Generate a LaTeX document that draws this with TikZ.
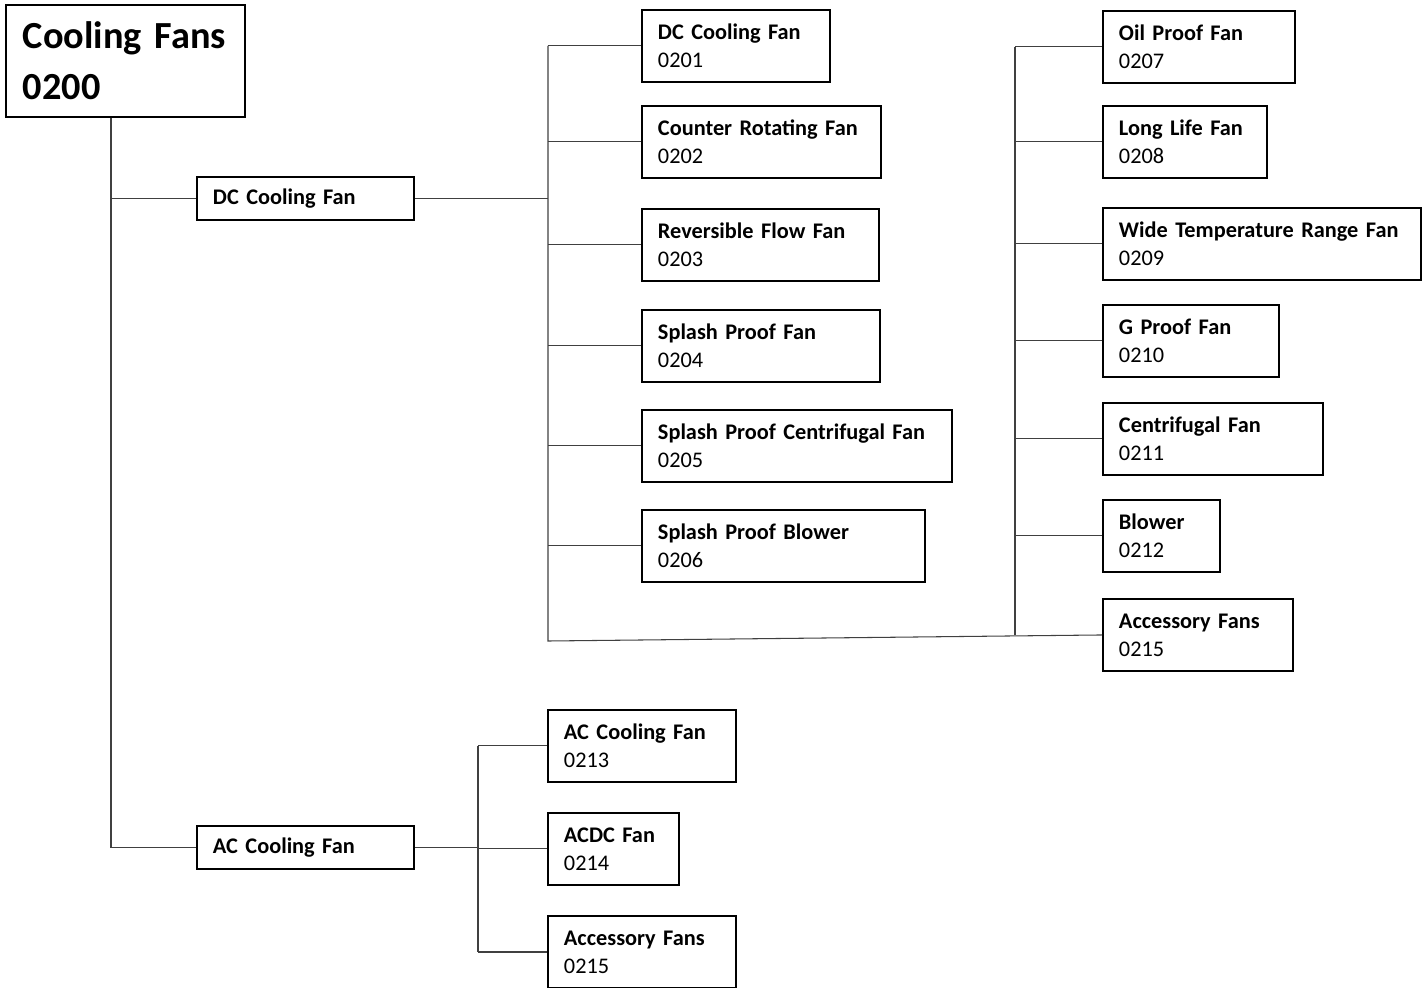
\documentclass[tikz,border=0pt]{standalone}
\usepackage{fontspec}
\setmainfont{Carlito}
\tikzset{
  rootbox/.style={draw, line width=1.1pt, anchor=north west, align=left,
    inner xsep=0.34cm, inner ysep=0pt, minimum height=2.24cm, text width=4.1cm,
    font=\bfseries\fontsize{21.8}{29}\selectfont},
  groupbox/.style={draw, line width=1.1pt, anchor=north west, align=left,
    inner xsep=0.32cm, inner ysep=0pt, minimum height=0.86cm, text width=3.7cm,
    font=\bfseries\fontsize{12.7}{16}\selectfont},
  fanbox/.style={draw, line width=1.1pt, anchor=north west, align=left,
    inner xsep=0.32cm, inner ysep=0pt, minimum height=1.44cm, text width=#1,
    font=\fontsize{12.7}{16}\selectfont},
  link/.style={draw=black!75, line width=0.6pt}
}
\begin{document}
\begin{tikzpicture}[x=0.02cm, y=-0.02cm]
    \useasboundingbox (0,0) rectangle (1426,987);
    % top level
    \node[rootbox] (root) at (5,4) {\mbox{Cooling Fans}\\0200};
    \node[groupbox] (dc) at (196,176) {DC Cooling Fan};
    \node[groupbox] (ac) at (196,825) {AC Cooling Fan};
    % dc fans, first column
    \node[fanbox=3.12cm] (f01) at (641,9) {\textbf{DC Cooling Fan}\\0201};
    \node[fanbox=4.14cm] (f02) at (641,105) {\textbf{Counter Rotating Fan}\\0202};
    \node[fanbox=4.10cm] (f03) at (641,208) {\textbf{Reversible Flow Fan}\\0203};
    \node[fanbox=4.12cm] (f04) at (641,309) {\textbf{Splash Proof Fan}\\0204};
    \node[fanbox=5.56cm] (f05) at (641,409) {\textbf{Splash Proof Centrifugal Fan}\\0205};
    \node[fanbox=5.02cm] (f06) at (641,509) {\textbf{Splash Proof Blower}\\0206};
    % dc fans, second column
    \node[fanbox=3.20cm] (f07) at (1102,10) {\textbf{Oil Proof Fan}\\0207};
    \node[fanbox=2.64cm] (f08) at (1102,105) {\textbf{Long Life Fan}\\0208};
    \node[fanbox=5.72cm] (f09) at (1102,207) {\textbf{\mbox{Wide Temperature Range Fan}}\\0209};
    \node[fanbox=2.88cm] (f10) at (1102,304) {\textbf{G Proof Fan}\\0210};
    \node[fanbox=3.76cm] (f11) at (1102,402) {\textbf{Centrifugal Fan}\\0211};
    \node[fanbox=1.70cm] (f12) at (1102,499) {\textbf{Blower}\\0212};
    \node[fanbox=3.16cm] (f15) at (1102,598) {\textbf{Accessory Fans}\\0215};
    % ac fans
    \node[fanbox=3.12cm] (f13) at (547,709) {\textbf{AC Cooling Fan}\\0213};
    \node[fanbox=1.98cm] (f14) at (547,812) {\textbf{ACDC Fan}\\0214};
    \node[fanbox=3.12cm] (acc) at (547,915) {\textbf{Accessory Fans}\\0215};
    % bus lines
    \coordinate (trunk) at (111,0);
    \coordinate (dcbus) at (548,0);
    \coordinate (dcend) at (548,641);
    \coordinate (midbus) at (1015,0);
    \coordinate (acbus) at (478,0);
    \draw[link] (trunk |- root.south) -- (trunk |- ac.west) -- (ac.west);
    \draw[link] (trunk |- dc.west) -- (dc.west);
    \draw[link] (dc.east) -- (dc.east -| dcbus);
    \draw[link] (dcbus |- f01.west) -- (dcend) -- (f15.west);
    \foreach \f in {f01,f02,f03,f04,f05,f06}
        \draw[link] (dcbus |- \f.west) -- (\f.west);
    \draw[link] (midbus |- f07.west) -- (midbus |- f15.west);
    \foreach \f in {f07,f08,f09,f10,f11,f12}
        \draw[link] (midbus |- \f.west) -- (\f.west);
    \draw[link] (ac.east) -- (ac.east -| acbus);
    \draw[link] (acbus |- f13.west) -- (acbus |- acc.west);
    \foreach \f in {f13,f14,acc}
        \draw[link] (acbus |- \f.west) -- (\f.west);
\end{tikzpicture}
\end{document}
